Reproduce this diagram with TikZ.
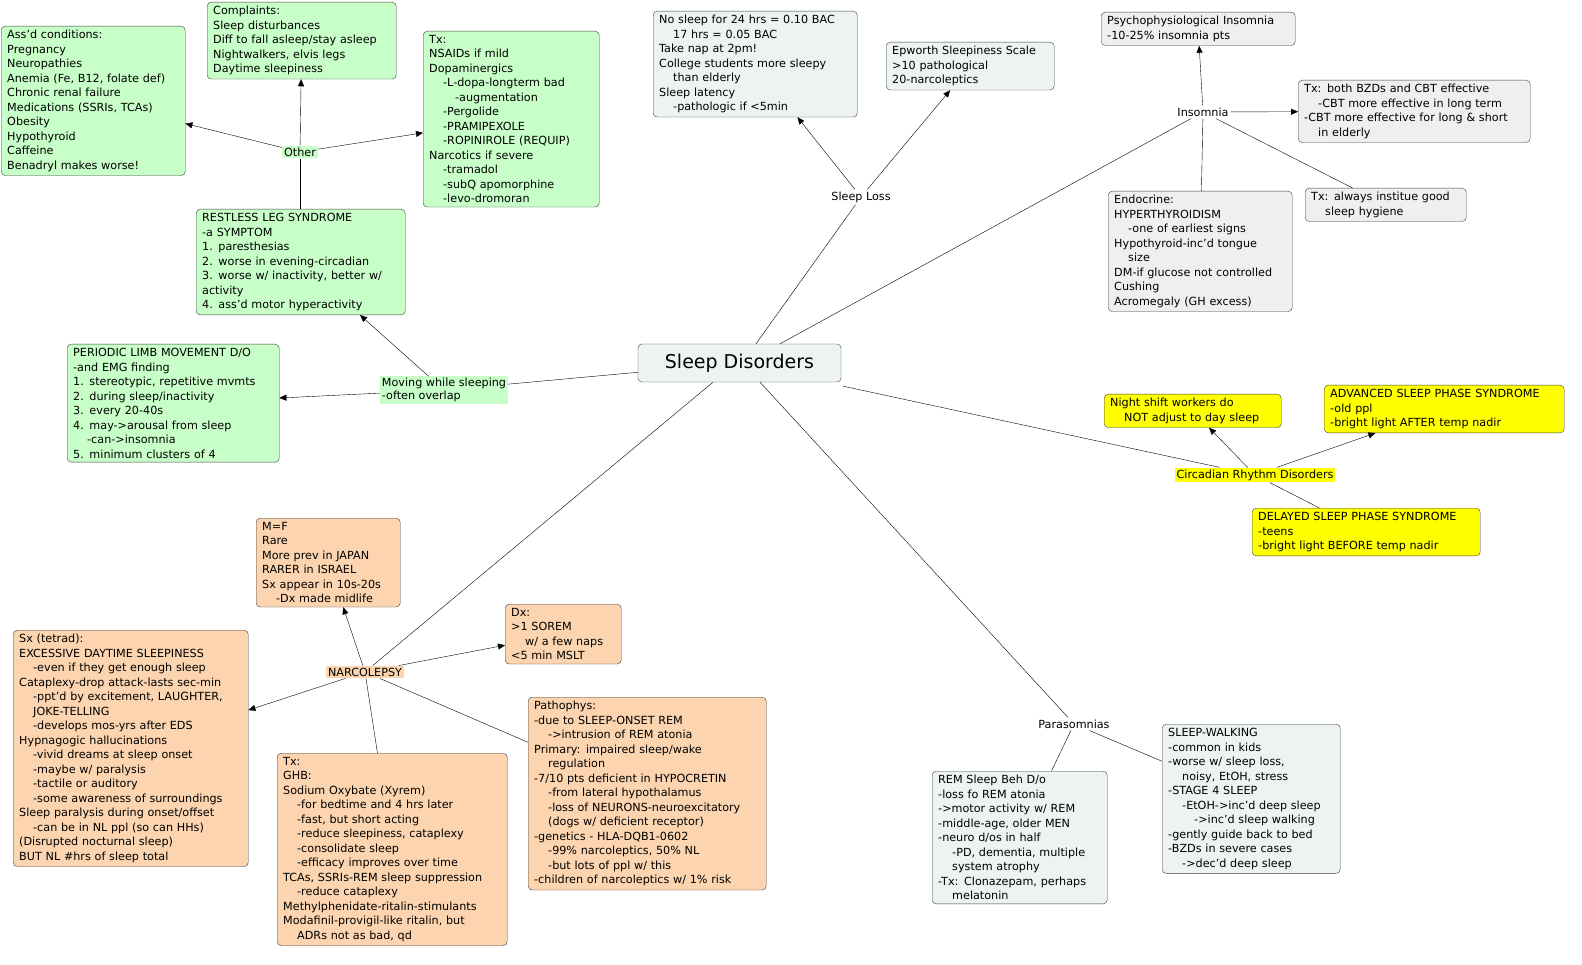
\documentclass[tikz,border=0pt]{standalone}
\usepackage{fontspec}
\setmainfont{DejaVu Sans}
\usetikzlibrary{arrows.meta}
\newcommand\myia{\hspace*{14pt}}
\newcommand\myib{\hspace*{26pt}}
\definecolor{gr}{HTML}{C8FFC8}
\definecolor{pe}{HTML}{FCD5B0}
\definecolor{ye}{HTML}{FFFF00}
\definecolor{bl}{HTML}{EDF3F3}
\definecolor{gy}{HTML}{EFEFEF}
\begin{document}
\begin{tikzpicture}[x=1pt,y=-1pt,
  box/.style={draw=black!75, rounded corners=4pt, anchor=north west, align=left, inner xsep=6pt, inner ysep=4pt, text width=#1, font=\fontsize{11.2}{14.5}\selectfont},
  lab/.style={inner sep=2pt, font=\fontsize{11.2}{12.5}\selectfont, align=left},
  ar/.style={-{Triangle[length=7pt,width=6pt]}, black},
  ln/.style={black}]
\useasboundingbox (0,0) rectangle (1582,965);
\fill[white] (0,0) rectangle (1582,965);

% green cluster
\node[box=172pt, fill=gr] (ass) at (1,26) {Ass'd conditions:\\Pregnancy\\Neuropathies\\Anemia (Fe, B12, folate def)\\Chronic renal failure\\Medications (SSRIs, TCAs)\\Obesity\\Hypothyroid\\Caffeine\\Benadryl makes worse!};
\node[box=177pt, fill=gr] (comp) at (207,2) {Complaints:\\Sleep disturbances\\Diff to fall asleep/stay asleep\\Nightwalkers, elvis legs\\Daytime sleepiness};
\node[box=164pt, fill=gr] (rtx) at (423,31) {Tx:\\NSAIDs if mild\\Dopaminergics\\\myia-L-dopa-longterm bad\\\myib-augmentation\\\myia-Pergolide\\\myia-PRAMIPEXOLE\\\myia-ROPINIROLE (REQUIP)\\Narcotics if severe\\\myia-tramadol\\\myia-subQ apomorphine\\\myia-levo-dromoran};
\node[box=197pt, fill=gr] (rls) at (196,209) {RESTLESS LEG SYNDROME\\-a SYMPTOM\\1. paresthesias\\2. worse in evening-circadian\\3. worse w/ inactivity, better w/\\activity\\4. ass'd motor hyperactivity};
\node[box=200pt, fill=gr] (plm) at (67,344) {PERIODIC LIMB MOVEMENT D/O\\-and EMG finding\\1. stereotypic, repetitive mvmts\\2. during sleep/inactivity\\3. every 20-40s\\4. may->arousal from sleep\\\myia-can->insomnia\\5. minimum clusters of 4};
\node[lab, fill=gr] (oth) at (300,152) {Other};
\node[lab, fill=gr] (mov) at (444,390) {Moving while sleeping\\-often overlap};

% center
\node[draw=black!75, fill=bl, rounded corners=4pt, minimum width=203pt, minimum height=38pt, font=\fontsize{19}{21}\selectfont] (sd) at (739.5,363) {Sleep Disorders};

% sleep loss
\node[box=192pt, fill=bl] (nos) at (653,11) {No sleep for 24 hrs = 0.10 BAC\\\myia 17 hrs = 0.05 BAC\\Take nap at 2pm!\\College students more sleepy\\\myia than elderly\\Sleep latency\\\myia-pathologic if <5min};
\node[box=156pt, fill=bl] (epw) at (886,42) {Epworth Sleepiness Scale\\>10 pathological\\20-narcoleptics};
\node[lab] (slo) at (861,197) {Sleep Loss};

% insomnia
\node[box=182pt, fill=gy] (psy) at (1101,12) {Psychophysiological Insomnia\\-10-25\% insomnia pts};
\node[lab] (ins) at (1203,112) {Insomnia};
\node[box=220pt, fill=gy] (itx) at (1298,80) {Tx: both BZDs and CBT effective\\\myia-CBT more effective in long term\\-CBT more effective for long \& short\\\myia in elderly};
\node[box=172pt, fill=gy] (end) at (1108,191) {Endocrine:\\HYPERTHYROIDISM\\\myia-one of earliest signs\\Hypothyroid-inc'd tongue\\\myia size\\DM-if glucose not controlled\\Cushing\\Acromegaly (GH excess)};
\node[box=149pt, fill=gy] (hyg) at (1305,188) {Tx: always institue good\\\myia sleep hygiene};

% circadian
\node[box=165pt, fill=ye] (nsw) at (1104,394) {Night shift workers do\\\myia NOT adjust to day sleep};
\node[box=228pt, fill=ye] (adv) at (1324,385) {ADVANCED SLEEP PHASE SYNDROME\\-old ppl\\-bright light AFTER temp nadir};
\node[lab, fill=ye] (cir) at (1255,475) {Circadian Rhythm Disorders};
\node[box=216pt, fill=ye] (del) at (1252,508) {DELAYED SLEEP PHASE SYNDROME\\-teens\\-bright light BEFORE temp nadir};

% narcolepsy
\node[box=132pt, fill=pe] (mf) at (256,518) {M=F\\Rare\\More prev in JAPAN\\RARER in ISRAEL\\Sx appear in 10s-20s\\\myia-Dx made midlife};
\node[box=104pt, fill=pe] (dx) at (505,604) {Dx:\\>1 SOREM\\\myia w/ a few naps\\<5 min MSLT};
\node[lab, fill=pe] (nar) at (365,672) {NARCOLEPSY};
\node[box=223pt, fill=pe] (sx) at (13,630) {Sx (tetrad):\\EXCESSIVE DAYTIME SLEEPINESS\\\myia-even if they get enough sleep\\Cataplexy-drop attack-lasts sec-min\\\myia-ppt'd by excitement, LAUGHTER,\\\myia JOKE-TELLING\\\myia-develops mos-yrs after EDS\\Hypnagogic hallucinations\\\myia-vivid dreams at sleep onset\\\myia-maybe w/ paralysis\\\myia-tactile or auditory\\\myia-some awareness of surroundings\\Sleep paralysis during onset/offset\\\myia-can be in NL ppl (so can HHs)\\(Disrupted nocturnal sleep)\\BUT NL \#hrs of sleep total};
\node[box=218pt, fill=pe] (gtx) at (277,753) {Tx:\\GHB:\\Sodium Oxybate (Xyrem)\\\myia-for bedtime and 4 hrs later\\\myia-fast, but short acting\\\myia-reduce sleepiness, cataplexy\\\myia-consolidate sleep\\\myia-efficacy improves over time\\TCAs, SSRIs-REM sleep suppression\\\myia-reduce cataplexy\\Methylphenidate-ritalin-stimulants\\Modafinil-provigil-like ritalin, but\\\myia ADRs not as bad, qd};
\node[box=226pt, fill=pe] (pat) at (528,697) {Pathophys:\\-due to SLEEP-ONSET REM\\\myia->intrusion of REM atonia\\Primary: impaired sleep/wake\\\myia regulation\\-7/10 pts deficient in HYPOCRETIN\\\myia-from lateral hypothalamus\\\myia-loss of NEURONS-neuroexcitatory\\\myia(dogs w/ deficient receptor)\\-genetics - HLA-DQB1-0602\\\myia-99\% narcoleptics, 50\% NL\\\myia-but lots of ppl w/ this\\-children of narcoleptics w/ 1\% risk};

% parasomnias
\node[lab] (par) at (1074,724) {Parasomnias};
\node[box=163pt, fill=bl] (rem) at (932,771) {REM Sleep Beh D/o\\-loss fo REM atonia\\->motor activity w/ REM\\-middle-age, older MEN\\-neuro d/os in half\\\myia-PD, dementia, multiple\\\myia system atrophy\\-Tx: Clonazepam, perhaps\\\myia melatonin};
\node[box=166pt, fill=bl] (swk) at (1162,724) {SLEEP-WALKING\\-common in kids\\-worse w/ sleep loss,\\\myia noisy, EtOH, stress\\-STAGE 4 SLEEP\\\myia-EtOH->inc'd deep sleep\\\myib->inc'd sleep walking\\-gently guide back to bed\\-BZDs in severe cases\\\myia->dec'd deep sleep};

% connectors
\draw[ar] (oth) -- (ass);
\draw[ar] (oth) -- (comp);
\draw[ar] (oth) -- (rtx);
\draw[ln] (rls.north -| oth) -- (oth);
\draw[ar] (mov) -- (rls);
\draw[ar] (mov) -- (plm);
\draw[ln] (sd) -- (mov);
\draw[ln] (sd.north -| 756,0) -- (slo);
\draw[ar] (slo) -- (nos);
\draw[ar] (slo) -- (epw);
\draw[ln] (sd.north -| 780,0) -- (ins);
\draw[ar] (ins) -- (psy);
\draw[ar] (ins) -- (itx);
\draw[ln] (ins) -- (end);
\draw[ln] (ins) -- (hyg);
\draw[ln] (sd.south east) ++(2,4) -- (cir);
\draw[ar] (cir) -- (nsw);
\draw[ar] (cir) -- (adv);
\draw[ln] (cir) -- (del);
\draw[ln] (sd.south -| 713,0) -- (nar);
\draw[ar] (nar) -- (mf);
\draw[ar] (nar) -- (dx);
\draw[ar] (nar) -- (sx);
\draw[ln] (nar) -- (gtx);
\draw[ln] (nar) -- (pat);
\draw[ln] (sd.south -| 760,0) -- (par);
\draw[ln] (par) -- (rem);
\draw[ln] (par) -- (swk);
\end{tikzpicture}
\end{document}
